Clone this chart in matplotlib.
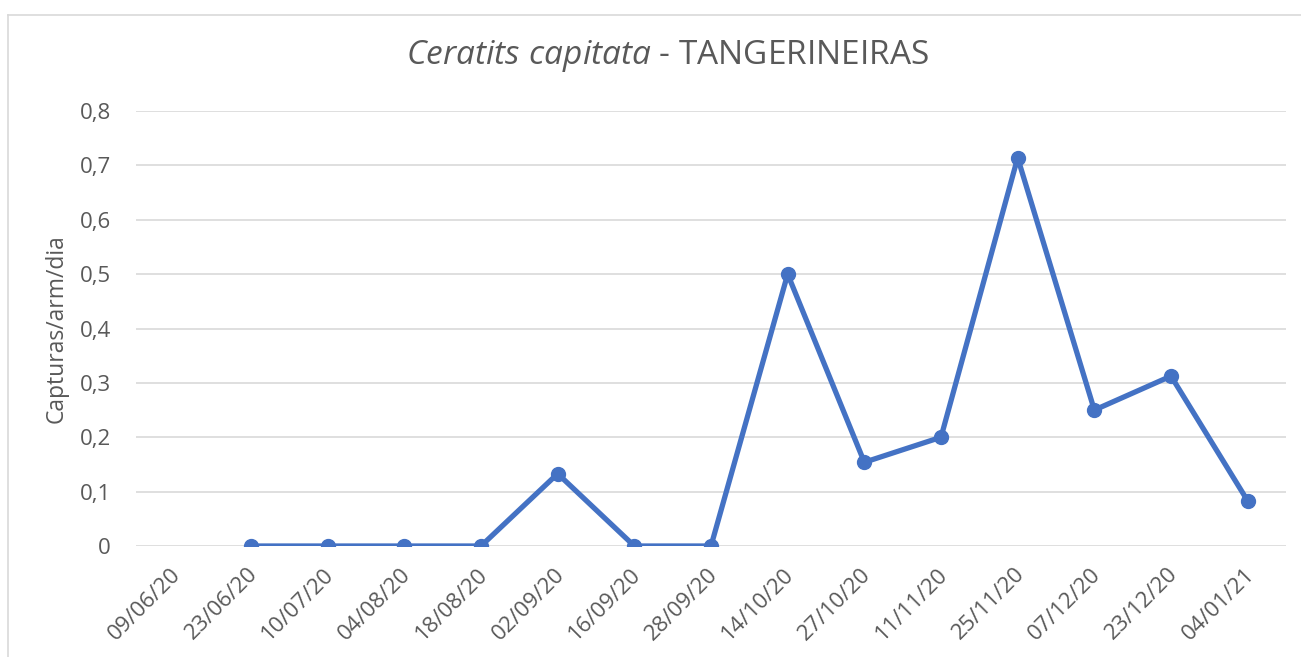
import matplotlib
matplotlib.use("Agg")
import matplotlib.pyplot as plt
import matplotlib.transforms as mtransforms
from matplotlib.lines import Line2D
import numpy as np

dates = ["09/06/20", "23/06/20", "10/07/20", "04/08/20", "18/08/20", "02/09/20",
         "16/09/20", "28/09/20", "14/10/20", "27/10/20", "11/11/20", "25/11/20",
         "07/12/20", "23/12/20", "04/01/21"]
capturas = [np.nan, 0, 0, 0, 0, 0.133, 0, 0, 0.5, 0.154, 0.2, 0.714, 0.25, 0.3125, 0.083]
yticks = [0, 0.1, 0.2, 0.3, 0.4, 0.5, 0.6, 0.7, 0.8]
ytick_labels = ["0", "0,1", "0,2", "0,3", "0,4", "0,5", "0,6", "0,7", "0,8"]

FONT = "Open Sans"
TXT = "#595959"
plt.rcParams["font.family"] = [FONT, "DejaVu Sans"]
plt.rcParams["mathtext.fontset"] = "custom"
plt.rcParams["mathtext.rm"] = FONT
plt.rcParams["mathtext.it"] = FONT + ":italic"

W, H = 1301, 657
fig = plt.figure(figsize=(W / 100, H / 100), dpi=100)
ax = fig.add_axes([136 / W, (H - 546) / H, (1286 - 136) / W, (546 - 111) / H])

x = np.arange(len(dates))
ax.plot(x, capturas, color="#4472C4", lw=3.8, marker="o", ms=10,
        solid_joinstyle="round", zorder=3)

ax.set_xlim(-0.5, len(dates) - 0.5)
ax.set_ylim(0, 0.8)
ax.set_yticks(yticks)
ax.set_yticklabels(ytick_labels)
ax.set_xticks(x)
ax.set_xticklabels(dates, rotation=45, ha="right", rotation_mode="anchor")
ax.grid(axis="y", color="#D9D9D9", lw=1.2)
ax.set_axisbelow(True)
for s in ax.spines.values():
    s.set_visible(False)
ax.tick_params(axis="both", length=0, labelsize=16, colors=TXT)
ax.tick_params(axis="y", pad=18)
ax.tick_params(axis="x", pad=12)
offset = mtransforms.ScaledTranslation(-4 / 100, -1 / 100, fig.dpi_scale_trans)
for lbl in ax.get_xticklabels():
    lbl.set_transform(lbl.get_transform() + offset)
ax.set_ylabel("Capturas/arm/dia", fontsize=16.5, color=TXT, va="center")
ax.yaxis.set_label_coords((57 - 136) / 1150, 0.5)

fig.text(668 / W, (H - 56) / H, r"$\it{Ceratits\ capitata}$ - TANGERINEIRAS",
         ha="center", va="center", fontsize=24, color=TXT)

# chart border
fig.add_artist(Line2D([8 / W, 8 / W], [0, (H - 15) / H], color="#D9D9D9", lw=1.2,
                      transform=fig.transFigure))
fig.add_artist(Line2D([8 / W, 1], [(H - 15) / H, (H - 15) / H], color="#D9D9D9", lw=1.2,
                      transform=fig.transFigure))

fig.savefig("out.png", dpi=100, facecolor="white")
